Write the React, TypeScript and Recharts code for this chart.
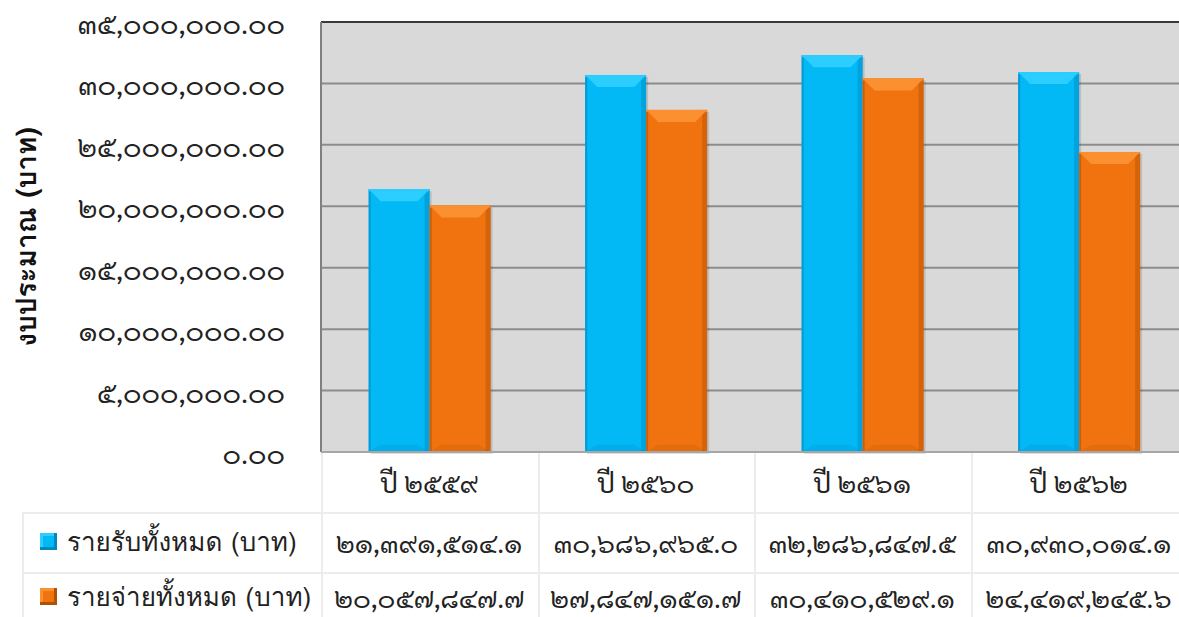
import React from "react";
import {
  BarChart,
  Bar,
  XAxis,
  YAxis,
  CartesianGrid,
  ReferenceLine,
} from "recharts";

const YEARS = ["ปี ๒๕๕๙", "ปี ๒๕๖๐", "ปี ๒๕๖๑", "ปี ๒๕๖๒"];
const INCOME = [21391514.1, 30686965.0, 32286847.5, 30930014.1];
const EXPENSE = [20057847.7, 27847151.7, 30410529.1, 24419245.6];
const Y_TICKS = [0, 5000000, 10000000, 15000000, 20000000, 25000000, 30000000, 35000000];
const SERIES = [
  { key: "income", name: "รายรับทั้งหมด (บาท)", values: INCOME, base: "#02b8f5", light: "#2ccdff", dark: "#0088c0" },
  { key: "expense", name: "รายจ่ายทั้งหมด (บาท)", values: EXPENSE, base: "#f1730f", light: "#fb9030", dark: "#b05206" },
];

const data = YEARS.map((name, i) => ({ name, income: INCOME[i], expense: EXPENSE[i] }));

const THAI = "๐๑๒๓๔๕๖๗๘๙";
const toThai = (s: string) => s.replace(/[0-9]/g, (d) => THAI[Number(d)]);
const fmt = (v: number, dec: number) =>
  toThai(v.toLocaleString("en-US", { minimumFractionDigits: dec, maximumFractionDigits: dec }));

const FONT = "'Garuda', 'Loma', 'Kinnari', 'Norasi', 'Sawasdee', 'Noto Sans Thai', 'Noto Sans', 'DejaVu Sans', sans-serif";
const DIGIT_FONT = "'Norasi', 'Kinnari', 'Laksaman', 'Sarabun', 'TH Sarabun New', 'Noto Serif Thai', " + FONT;

const W = 1190;
const H = 617;
const PLOT_LEFT = 321;
const PLOT_TOP = 22;
const PLOT_BOTTOM = 452;
const COL_W = 216.5;

function bevel(s: typeof SERIES[number]) {
  return (props: any) => {
    const { x, y, width, height } = props;
    if (!height || height <= 0) return <g />;
    const b = 12;
    const e = 5;
    return (
      <g>
        <rect x={x + 2} y={y + 2} width={width} height={height} fill="rgba(0,0,0,0.12)" />
        <rect x={x} y={y} width={width} height={height} fill={s.base} />
        <rect x={x} y={y} width={2} height={height} fill={s.dark} opacity={0.6} />
        <rect x={x + width - e} y={y} width={e} height={height} fill={s.dark} opacity={0.45} />
        <polygon
          points={`${x},${y} ${x + width},${y} ${x + width - b},${y + b} ${x + b},${y + b}`}
          fill={s.light}
        />
        <rect x={x} y={y} width={width} height={2} fill={s.light} opacity={0.8} />
        <polygon
          points={`${x},${y + height} ${x + width},${y + height} ${x + width - b},${y + height - b * 0.6} ${x + b},${y + height - b * 0.6}`}
          fill={s.dark}
          opacity={0.2}
        />
      </g>
    );
  };
}

const YTick = (props: any) => {
  const { y, payload } = props;
  return (
    <text x={PLOT_LEFT - 36} y={y} textAnchor="end" dominantBaseline="central" fontSize={28} fill="#222" fontFamily={DIGIT_FONT}>
      {fmt(payload.value, 2)}
    </text>
  );
};

const XTick = (props: any) => {
  const { x, payload } = props;
  return (
    <text x={x} y={PLOT_BOTTOM + 29} textAnchor="middle" dominantBaseline="central" fontSize={27} fill="#222" fontFamily={DIGIT_FONT}>
      {payload.value}
    </text>
  );
};

const YTitle = () => (
  <text
    x={26}
    y={(PLOT_TOP + PLOT_BOTTOM) / 2}
    transform={`rotate(-90, 26, ${(PLOT_TOP + PLOT_BOTTOM) / 2})`}
    textAnchor="middle"
    dominantBaseline="central"
    fontSize={28}
    fontWeight="bold"
    fill="#111"
    fontFamily={FONT}
  >
    งบประมาณ (บาท)
  </text>
);

const lineColor = "#ececec";

export default function App() {
  const rowTops = [512, 572];
  const rowH = [60, 50];
  return (
    <div
      style={{
        position: "absolute",
        left: 0,
        top: 0,
        width: 1179,
        height: H,
        overflow: "hidden",
        background: "#fff",
        fontFamily: FONT,
      }}
    >
      <BarChart
        width={W}
        height={H}
        data={data}
        margin={{ top: PLOT_TOP, right: W - PLOT_LEFT - COL_W * 4, bottom: 0, left: 0 }}
        barCategoryGap="22%"
        barGap={0}
      >
        <CartesianGrid vertical={false} stroke="#8c8c8c" strokeWidth={2} fill="#d9d9d9" fillOpacity={1} />
        <YAxis
          width={PLOT_LEFT}
          domain={[0, 35000000]}
          ticks={Y_TICKS}
          tick={<YTick />}
          tickLine={false}
          axisLine={{ stroke: "#808080", strokeWidth: 2 }}
          interval={0}
          label={<YTitle />}
        />
        <XAxis
          dataKey="name"
          height={H - PLOT_BOTTOM}
          tick={<XTick />}
          tickLine={false}
          tickSize={0}
          axisLine={{ stroke: "#a6a6a6", strokeWidth: 2 }}
        />
        <ReferenceLine y={35000000} stroke="#3a3a3a" strokeWidth={2} />
        {SERIES.map((s) => (
          <Bar key={s.key} dataKey={s.key} name={s.name} shape={bevel(s)} isAnimationActive={false} />
        ))}
      </BarChart>

      {/* data table under the axis */}
      {[0, 1, 2, 3, 4].map((i) => (
        <div
          key={i}
          style={{ position: "absolute", left: PLOT_LEFT + COL_W * i, top: PLOT_BOTTOM + 1, width: 2, height: H - PLOT_BOTTOM, background: lineColor }}
        />
      ))}
      <div style={{ position: "absolute", left: 22, top: 512, width: 2, height: H - 512, background: lineColor }} />
      {rowTops.map((t) => (
        <div key={t} style={{ position: "absolute", left: 22, top: t, width: 1179, height: 2, background: lineColor }} />
      ))}
      {SERIES.map((s, r) => (
        <React.Fragment key={s.key}>
          <div
            style={{
              position: "absolute",
              left: 40,
              top: rowTops[r] + rowH[r] / 2 - 9,
              width: 17,
              height: 17,
              background: s.base,
              boxShadow: `inset -3px -3px 0 ${s.dark}, inset 3px 3px 0 ${s.light}`,
            }}
          />
          <div
            style={{
              position: "absolute",
              left: 67,
              top: rowTops[r],
              height: rowH[r],
              lineHeight: `${rowH[r]}px`,
              fontSize: 26,
              color: "#222",
              whiteSpace: "nowrap",
            }}
          >
            {s.name}
          </div>
          {s.values.map((v, i) => (
            <div
              key={i}
              style={{
                position: "absolute",
                left: PLOT_LEFT + COL_W * i,
                width: COL_W,
                top: rowTops[r],
                height: rowH[r],
                lineHeight: `${rowH[r]}px`,
                textAlign: "center",
                fontSize: 27,
                fontFamily: DIGIT_FONT,
                color: "#222",
                whiteSpace: "nowrap",
              }}
            >
              {fmt(v, 1)}
            </div>
          ))}
        </React.Fragment>
      ))}
    </div>
  );
}
